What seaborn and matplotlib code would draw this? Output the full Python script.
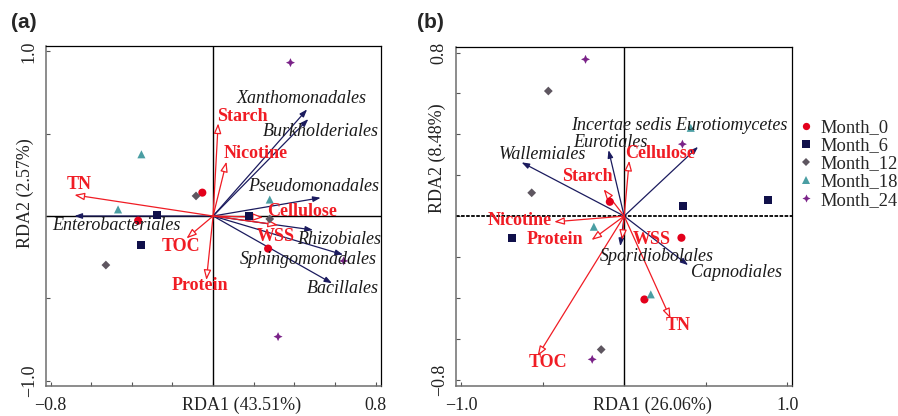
import numpy as np
import pandas as pd
import seaborn as sns
import matplotlib.pyplot as plt
from matplotlib.path import Path
from matplotlib.ticker import FixedLocator, FixedFormatter

# ---- data ----
months = ["Month_0", "Month_6", "Month_12", "Month_18", "Month_24"]

# panel (a) samples: 3 per month
a_month = ["Month_0"] * 3 + ["Month_6"] * 3 + ["Month_12"] * 3 + ["Month_18"] * 3 + ["Month_24"] * 3
a_rda1 = [-0.053, -0.369, 0.271, -0.277, -0.354, 0.176, -0.084, -0.528, 0.279, -0.353, -0.468, 0.279, 0.381, 0.320, 0.643]
a_rda2 = [0.142, -0.028, -0.198, 0.006, -0.176, 0.000, 0.122, -0.298, -0.018, 0.375, 0.040, 0.100, 0.932, -0.733, -0.273]

a_taxa = ["Xanthomonadales", "Burkholderiales", "Pseudomonadales", "Rhizobiales",
          "Sphingomonadales", "Bacillales", "Enterobacteriales"]
a_taxa_x = [0.463, 0.469, 0.530, 0.492, 0.640, 0.586, -0.683]
a_taxa_y = [0.648, 0.589, 0.111, -0.085, -0.235, -0.409, 0.000]

a_env = ["Starch", "Nicotine", "TN", "Cellulose", "WSS", "TOC", "Protein"]
a_env_x = [0.025, 0.066, -0.683, 0.246, 0.320, -0.131, -0.033]
a_env_y = [0.563, 0.330, 0.128, -0.008, -0.055, -0.136, -0.389]

# panel (b) samples
b_month = a_month
b_rda1 = [-0.088, 0.351, 0.124, 0.361, 0.882, -0.686, -0.465, -0.567, -0.141, 0.408, -0.186, 0.163, -0.237, 0.357, -0.196]
b_rda2 = [0.070, -0.106, -0.408, 0.049, 0.078, -0.108, 0.612, 0.114, -0.653, 0.432, -0.052, -0.383, 0.767, 0.352, -0.701]

b_taxa = ["Wallemiales", "Eurotiales", "Incertae sedis Eurotiomycetes", "Sporidiobolales", "Capnodiales"]
b_taxa_x = [-0.629, -0.096, 0.453, -0.024, 0.392]
b_taxa_y = [0.263, 0.323, 0.339, -0.147, -0.240]

b_env = ["Cellulose", "Starch", "Nicotine", "Protein", "WSS", "TN", "TOC"]
b_env_x = [0.031, -0.126, -0.429, -0.200, -0.012, 0.284, -0.531]
b_env_y = [0.271, 0.131, -0.028, -0.117, -0.117, -0.501, -0.685]

# ---- label placement (left edge, vertical centre, data units) ----
a_taxa_lab = [(0.115, 0.715), (0.246, 0.512), (0.172, 0.182), (0.415, -0.142),
              (0.131, -0.263), (0.463, -0.439), (-0.793, -0.055)]
a_env_lab = [(0.020, 0.603), (0.053, 0.377), (-0.722, 0.192), (0.267, 0.030),
             (0.213, -0.122), (-0.254, -0.186), (-0.202, -0.423)]
b_taxa_lab = [(-0.771, 0.299), (-0.312, 0.359), (-0.327, 0.442), (-0.149, -0.199), (0.408, -0.277)]
b_env_lab = [(0.008, 0.307), (-0.378, 0.193), (-0.839, -0.024), (-0.598, -0.114),
             (0.051, -0.114), (0.253, -0.533), (-0.588, -0.718)]

# 4-point star marker (fatter than matplotlib's built-in star)
ang = np.arange(8) * np.pi / 4 + np.pi / 2
rad = np.where(np.arange(8) % 2 == 0, 1.0, 0.45)
star_verts = np.column_stack([rad * np.cos(ang), rad * np.sin(ang)])
star4 = Path(np.vstack([star_verts, star_verts[:1]]), closed=True)

palette = {"Month_0": "#e3001b", "Month_6": "#10104a", "Month_12": "#5e5660",
           "Month_18": "#4a9ea3", "Month_24": "#7a2288"}
markers = {"Month_0": "o", "Month_6": "s", "Month_12": "D", "Month_18": "^", "Month_24": star4}
sizes = {"Month_0": 34, "Month_6": 32, "Month_12": 20, "Month_18": 34, "Month_24": 42}

NAVY = "#1b1b5e"
RED = "#f01c24"
FS = 13

sns.set_style("ticks")
plt.rcParams["font.family"] = ["Liberation Serif", "DejaVu Serif"]

fig = plt.figure(figsize=(8.98, 4.16), dpi=100)
ax_a = fig.add_axes([0.0512, 0.0721, 0.3731, 0.8173])
ax_b = fig.add_axes([0.5078, 0.0728, 0.3742, 0.8150])


def arrows(ax, xs, ys, names, labs, env):
    for x, y, name, (lx, ly) in zip(xs, ys, names, labs):
        if env:
            style = "-|>,head_length=0.6,head_width=0.22"
            props = dict(arrowstyle=style, ec=RED, fc="white", lw=0.9)
        else:
            style = "-|>,head_length=0.45,head_width=0.16"
            props = dict(arrowstyle=style, ec=NAVY, fc=NAVY, lw=0.9)
        props.update(shrinkA=0, shrinkB=0, mutation_scale=10)
        ax.annotate("", xy=(x, y), xytext=(0, 0), arrowprops=props, zorder=3)
        if env:
            ax.text(lx, ly, name, color=RED, fontsize=FS, fontweight="bold",
                    ha="left", va="center", zorder=5)
        else:
            ax.text(lx, ly, name, color="#1a1a1a", fontsize=FS, fontstyle="italic",
                    ha="left", va="center", zorder=5)


def style_axes(ax, xlim, ylim, xt, yt, xlab, ylab, xl_pos, yl_pos):
    ax.set_xlim(xlim)
    ax.set_ylim(ylim)
    ax.xaxis.set_major_locator(FixedLocator(xt))
    ax.yaxis.set_major_locator(FixedLocator(yt))
    xlabels = [""] * len(xt)
    xlabels[0] = f"{xt[0]:.1f}".replace("-", "\u2212")
    xlabels[-1] = f"{xt[-1]:.1f}"
    ylabels = [""] * len(yt)
    ylabels[0] = f"{yt[0]:.1f}".replace("-", "\u2212")
    ylabels[-1] = f"{yt[-1]:.1f}"
    ax.xaxis.set_major_formatter(FixedFormatter(xlabels))
    ax.yaxis.set_major_formatter(FixedFormatter(ylabels))
    ax.tick_params(axis="both", direction="in", length=3, width=0.8, colors="#555555",
                   labelcolor="#222222", labelsize=FS)
    ax.tick_params(axis="x", pad=8)
    ax.tick_params(axis="y", pad=6)
    for lab in ax.get_yticklabels():
        lab.set_rotation(90)
        lab.set_va("center")
    for s in ["top", "right"]:
        ax.spines[s].set_color("black")
        ax.spines[s].set_linewidth(0.9)
    for s in ["left", "bottom"]:
        ax.spines[s].set_color("#6e6e6e")
        ax.spines[s].set_linewidth(1.1)
    ax.set_xlabel(xlab, fontsize=FS, color="#222222")
    ax.set_ylabel(ylab, fontsize=FS, color="#222222")
    ax.xaxis.set_label_coords(*xl_pos)
    ax.xaxis.label.set_va("center")
    ax.yaxis.set_label_coords(*yl_pos)
    ax.yaxis.label.set_va("center")


# ---- panel (a) ----
df_a = pd.DataFrame({"RDA1": a_rda1, "RDA2": a_rda2, "Month": a_month})
ax_a.axhline(0, color="black", lw=1.0, zorder=1)
ax_a.axvline(0, color="black", lw=1.0, zorder=1)
arrows(ax_a, a_taxa_x, a_taxa_y, a_taxa, a_taxa_lab, env=False)
arrows(ax_a, a_env_x, a_env_y, a_env, a_env_lab, env=True)
sns.scatterplot(data=df_a, x="RDA1", y="RDA2", hue="Month", style="Month", size="Month",
                hue_order=months, style_order=months, size_order=months,
                palette=palette, markers=markers, sizes=sizes,
                linewidth=0, legend=False, ax=ax_a, zorder=4)
style_axes(ax_a, (-0.823, 0.827), (-1.033, 1.033),
           [-0.8, -0.6, -0.4, -0.2, 0.0, 0.2, 0.4, 0.6, 0.8], [-1.0, -0.5, 0.0, 0.5, 1.0],
           "RDA1 (43.51%)", "RDA2 (2.57%)", (0.585, -0.058), (-0.063, 0.568))
fig.text(0.027, 0.947, "(a)", fontsize=15, fontweight="bold", family="Liberation Sans",
         ha="center", va="center")

# ---- panel (b) ----
df_b = pd.DataFrame({"RDA1": b_rda1, "RDA2": b_rda2, "Month": b_month})
ax_b.axhline(0, color="black", lw=1.3, ls=(0, (2.0, 0.8)), zorder=1)
ax_b.axvline(0, color="black", lw=1.0, zorder=1)
arrows(ax_b, b_taxa_x, b_taxa_y, b_taxa, b_taxa_lab, env=False)
arrows(ax_b, b_env_x, b_env_y, b_env, b_env_lab, env=True)
sns.scatterplot(data=df_b, x="RDA1", y="RDA2", hue="Month", style="Month", size="Month",
                hue_order=months, style_order=months, size_order=months,
                palette=palette, markers=markers, sizes=sizes,
                linewidth=0, ax=ax_b, zorder=4)
style_axes(ax_b, (-1.031, 1.029), (-0.830, 0.829),
           [-1.0, -0.5, 0.0, 0.5, 1.0], [-0.8, -0.6, -0.4, -0.2, 0.0, 0.2, 0.4, 0.6, 0.8],
           "RDA1 (26.06%)", "RDA2 (8.48%)", (0.586, -0.058), (-0.057, 0.672))
handles, labels = ax_b.get_legend_handles_labels()
ax_b.get_legend().remove()
ax_b.legend(handles, labels, loc="center left", bbox_to_anchor=(1.021, 0.654),
            frameon=False, fontsize=13.3, handlelength=0.8, handletextpad=0.35,
            borderaxespad=0, borderpad=0, labelspacing=0.06, markerscale=0.9)
fig.text(0.479, 0.947, "(b)", fontsize=15, fontweight="bold", family="Liberation Sans",
         ha="center", va="center")

fig.savefig("out.png", dpi=100)
